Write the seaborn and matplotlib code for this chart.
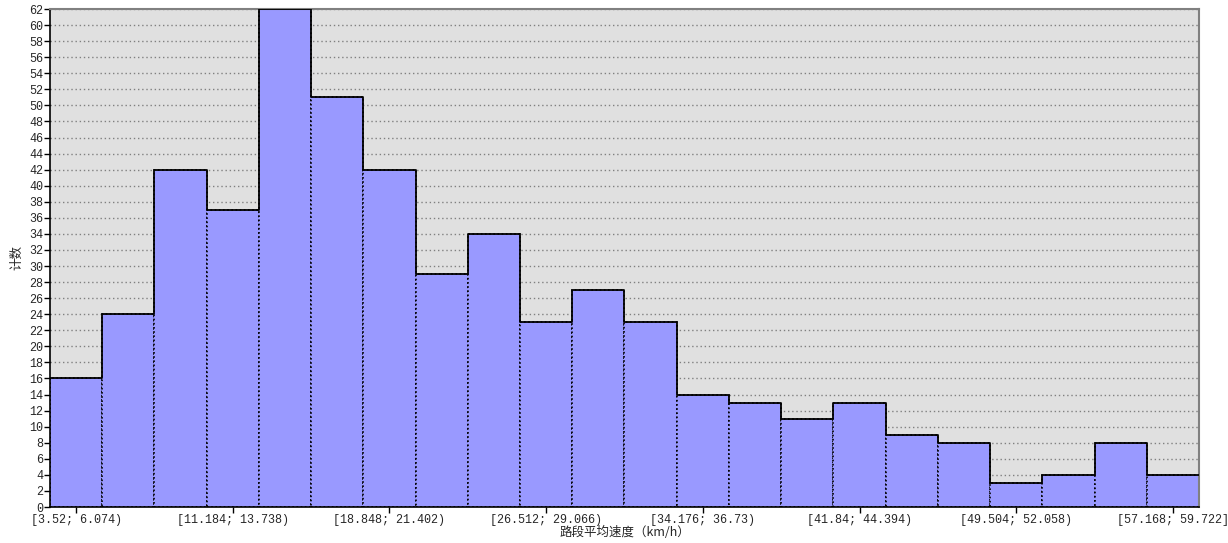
import numpy as np
import pandas as pd
import matplotlib
matplotlib.use("Agg")
import matplotlib.pyplot as plt
import seaborn as sns

# Data
bin_start = 3.52
bin_width = 2.554
counts = [16, 24, 42, 37, 62, 51, 42, 29, 34, 23, 27, 23, 14, 13, 11, 13, 9, 8, 3, 4, 8, 4]
tick_bins = [0, 3, 6, 9, 12, 15, 18, 21]
tick_labels = ["[3.52; 6.074)", "[11.184; 13.738)", "[18.848; 21.402)", "[26.512; 29.066)",
               "[34.176; 36.73)", "[41.84; 44.394)", "[49.504; 52.058)", "[57.168; 59.722]"]
xlabel = "路段平均速度（km/h）"
ylabel = "计数"

sns.set_style("white")
plt.rcParams['font.family'] = ['Noto Sans CJK SC', 'DejaVu Sans']

n = len(counts)
edges = [bin_start + bin_width * i for i in range(n + 1)]
centers = [(edges[i] + edges[i + 1]) / 2 for i in range(n)]
df = pd.DataFrame({"speed": centers, "count": counts})

fig = plt.figure(figsize=(12.28, 5.43), dpi=100)
ax = fig.add_axes([50/1228, 1 - 507/543, (1199-50)/1228, (507-9)/543])
ax.set_facecolor("#E0E0E0")

sns.histplot(data=df, x="speed", weights="count", bins=edges, ax=ax,
             color="#9999FF", alpha=1, edgecolor="black", linewidth=1.2,
             linestyle=(0, (1, 1.5)), zorder=2)
sns.histplot(data=df, x="speed", weights="count", bins=edges, ax=ax,
             element="step", fill=False, color="black", linewidth=1.3, zorder=3)

ax.set_xlim(edges[0], edges[-1])
ax.set_ylim(0, 62)
ax.set_yticks(np.arange(0, 63, 2))
ax.set_xticks([centers[i] for i in tick_bins])
ax.set_xticklabels(tick_labels)
ax.yaxis.grid(True, color="#808080", linestyle=(0, (1, 2)), linewidth=1)
ax.xaxis.grid(False)
ax.set_axisbelow(True)
ax.tick_params(axis="both", direction="out", length=4, width=1, labelsize=8.5, color="black", pad=1)
ax.tick_params(axis="y", left=True)
ax.tick_params(axis="x", bottom=True)
for lbl in ax.get_xticklabels() + ax.get_yticklabels():
    lbl.set_family(["Liberation Mono", "DejaVu Sans Mono"])
for s in ["left", "bottom"]:
    ax.spines[s].set_color("black")
    ax.spines[s].set_linewidth(1.2)
for s in ["top", "right"]:
    ax.spines[s].set_color("#808080")
    ax.spines[s].set_linewidth(1.5)

ax.set_xlabel(xlabel, fontsize=9, labelpad=0)
ax.set_ylabel(ylabel, fontsize=9, labelpad=4)

fig.savefig("out.png", dpi=100)
